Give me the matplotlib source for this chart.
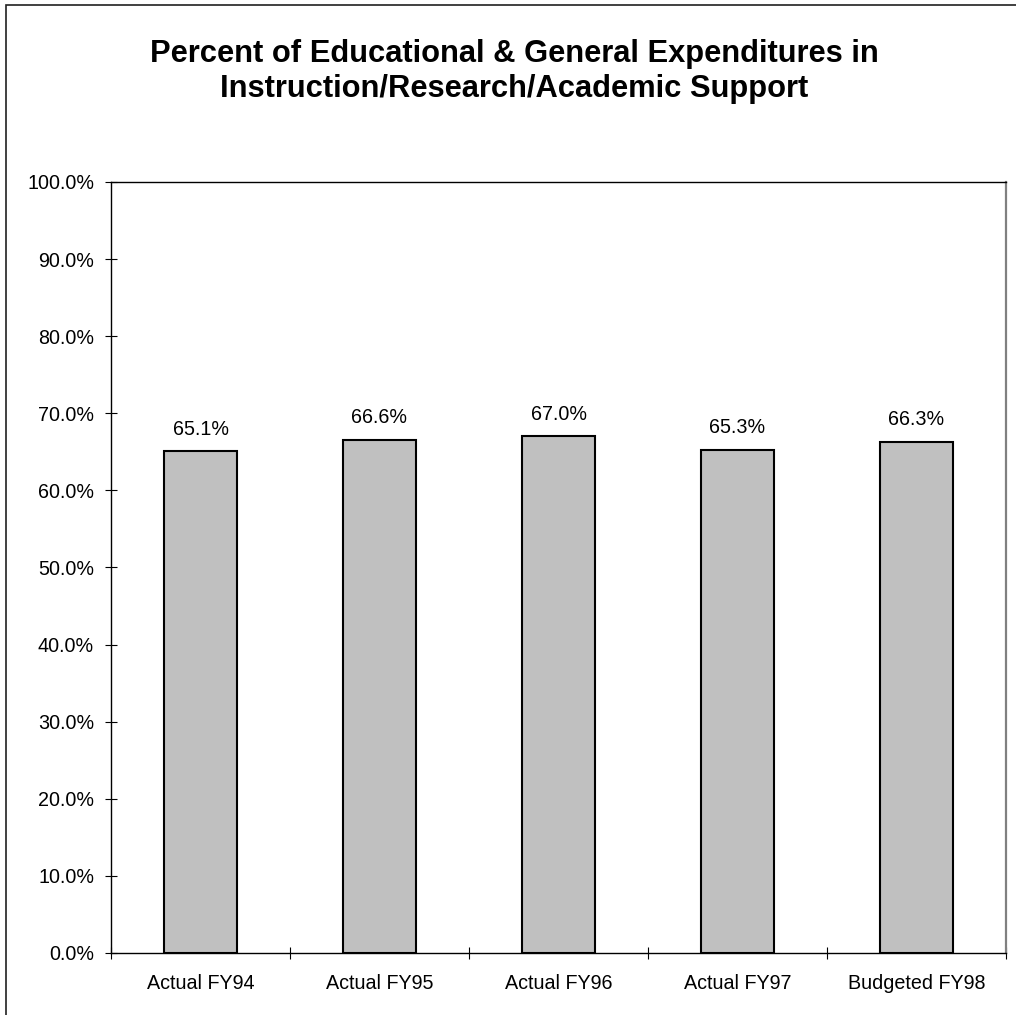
import matplotlib
matplotlib.use("Agg")
import matplotlib.pyplot as plt
from matplotlib.patches import Rectangle
import numpy as np

categories = ["Actual FY94", "Actual FY95", "Actual FY96", "Actual FY97", "Budgeted FY98"]
values = [65.1, 66.6, 67.0, 65.3, 66.3]
y_ticks = [0, 10, 20, 30, 40, 50, 60, 70, 80, 90, 100]
title = "Percent of Educational & General Expenditures in\nInstruction/Research/Academic Support"

plt.rcParams["font.family"] = ["Liberation Sans", "DejaVu Sans"]

W, H = 1016, 1015
fig = plt.figure(figsize=(W / 100, H / 100), dpi=100)
fig.patch.set_facecolor("white")

# Outer chart frame (runs off the right and bottom edges)
fig.add_artist(Rectangle((6 / W, -0.05), 1.2, 1 - 4.5 / H + 0.05,
                         transform=fig.transFigure, fill=False,
                         edgecolor="#202020", linewidth=1.2))

ax = fig.add_axes([111 / W, 62 / H, (1006 - 111) / W, (953 - 182) / H])

x = np.arange(len(categories))
bars = ax.bar(x, values, width=0.41, color="#C0C0C0", edgecolor="black",
              linewidth=1.5, zorder=3)

for xi, v in zip(x, values):
    ax.annotate(f"{v:.1f}%", (xi, v), xytext=(0, 9), textcoords="offset points",
                ha="center", va="bottom", fontsize=14.2)

ax.set_xlim(-0.5, len(categories) - 0.5)
ax.set_ylim(0, 100)
ax.set_yticks(y_ticks)
ax.set_yticklabels([f"{t:.1f}%" for t in y_ticks])

ax.set_xticks(np.arange(-0.5, len(categories) + 0.5, 1.0))
ax.set_xticklabels([])
ax.set_xticks(x, minor=True)
ax.set_xticklabels(categories, minor=True)
ax.tick_params(axis="x", which="minor", length=0, pad=15, labelsize=14.2)
ax.tick_params(axis="x", which="major", direction="inout", length=8.6, width=0.8)
ax.tick_params(axis="y", direction="inout", length=8.6, width=0.8, pad=7.9,
               labelsize=14.2)

for side in ["left", "bottom", "top"]:
    ax.spines[side].set_color("black")
    ax.spines[side].set_linewidth(1.0)
ax.spines["right"].set_color("#808080")
ax.spines["right"].set_linewidth(1.6)

fig.text(514 / W, 1 - 71.5 / H, title, ha="center", va="center",
         fontsize=22.2, fontweight="bold", linespacing=1.24)

fig.savefig("out.png", dpi=100)
